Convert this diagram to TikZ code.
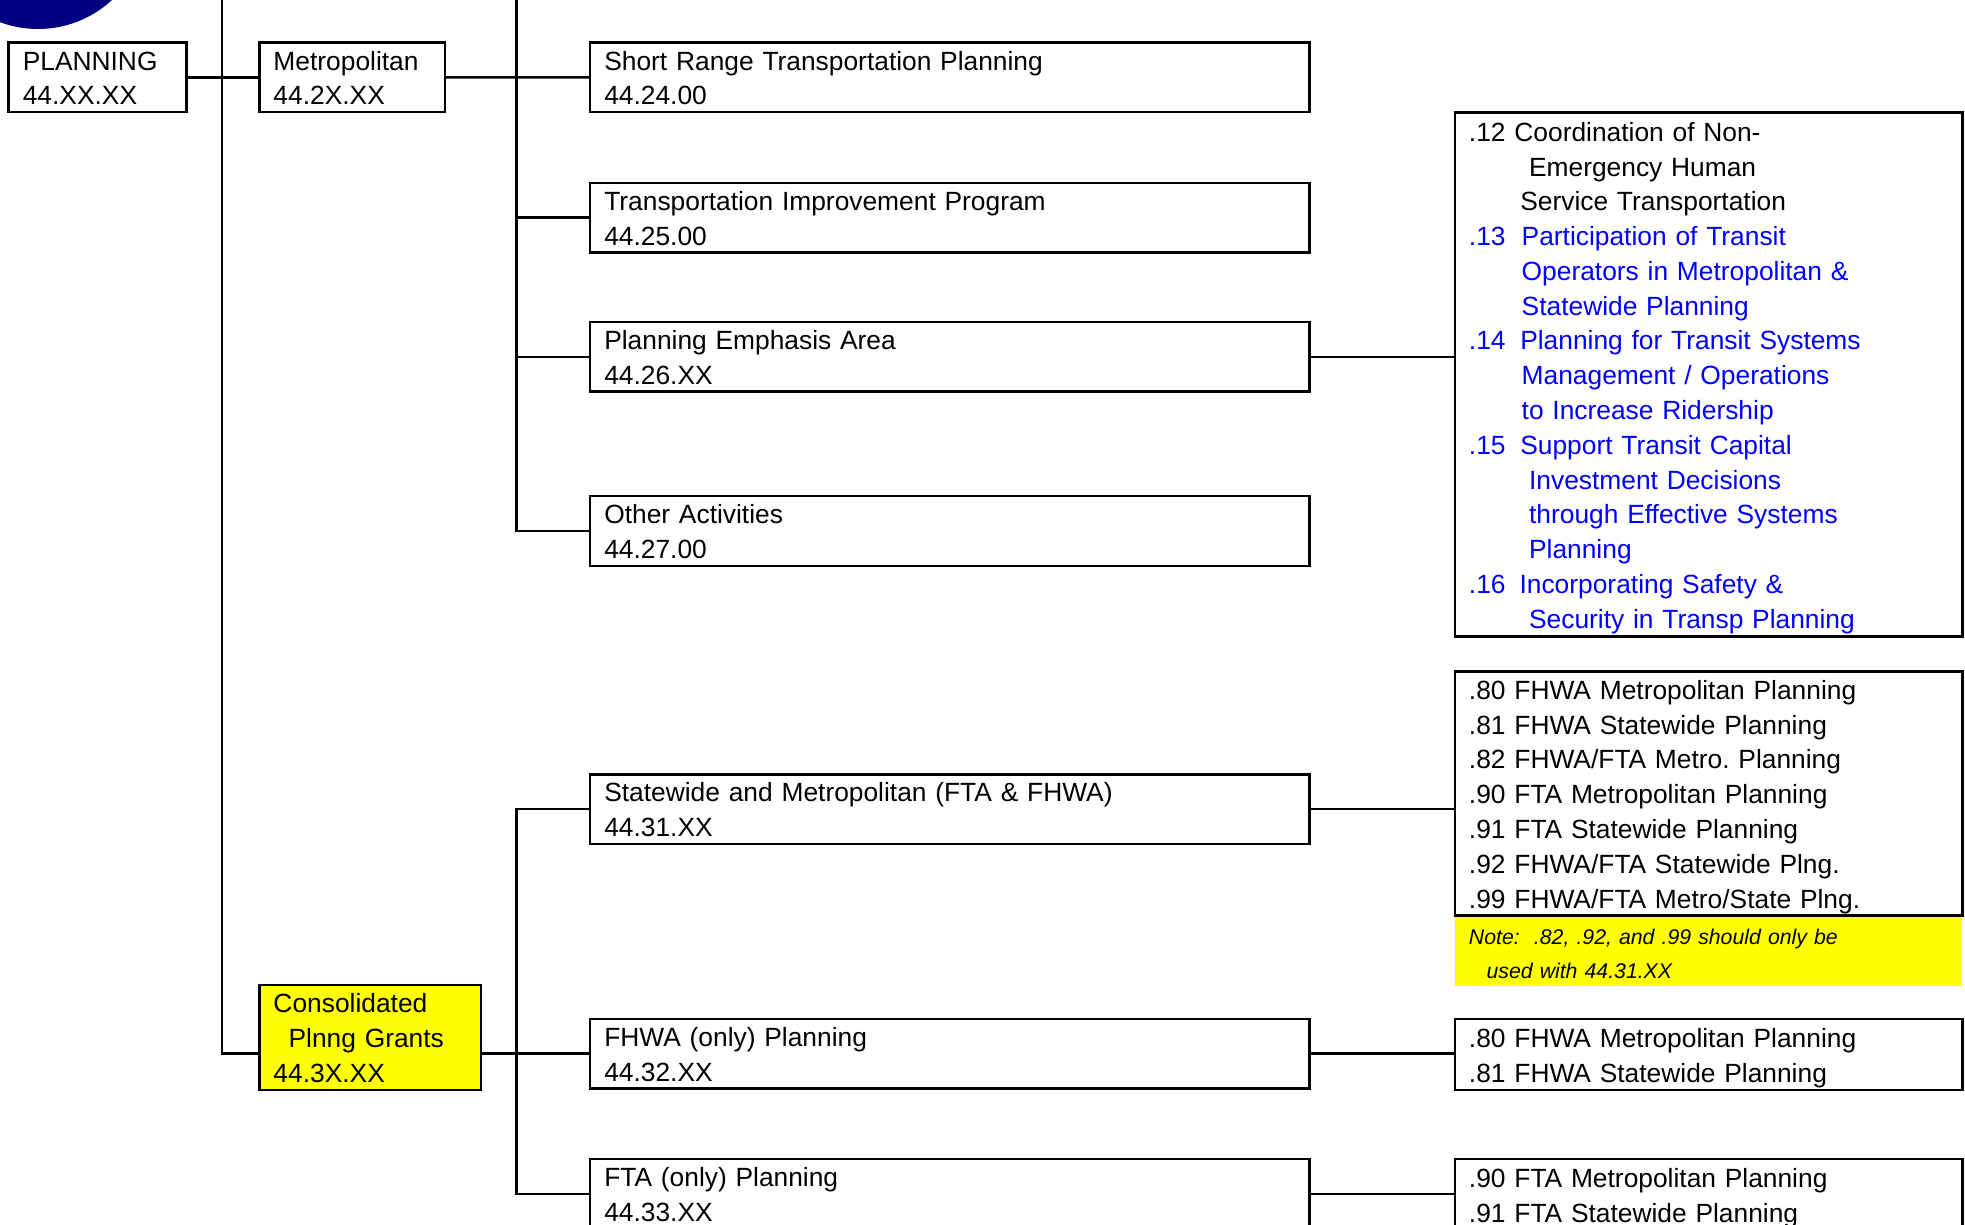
\documentclass[tikz,border=0pt]{standalone}
\usepackage{fontspec}
\setmainfont{Liberation Sans}
\usepackage{xcolor}
\usetikzlibrary{calc,positioning}
\definecolor{planNavy}{RGB}{0,0,128}
\definecolor{itemBlue}{RGB}{0,0,255}
\definecolor{noteYellow}{RGB}{255,255,0}
\newcommand{\topstrut}{\rule{0pt}{7.83pt}}
\newcommand{\botstrut}{\rule[-2.07pt]{0pt}{2.07pt}}
\tikzset{
  codebox/.style={draw,line width=.7pt,anchor=north west,inner xsep=4pt,inner ysep=0pt,align=left,
    font=\fontsize{7.5}{9.9}\selectfont,execute at begin node=\topstrut,execute at end node=\botstrut},
  smallbox/.style={codebox,text width=#1,minimum height=.689cm},
  widebox/.style={codebox,text width=6.911cm,minimum height=.696cm},
  listbox/.style={codebox,text width=4.794cm},
  notebox/.style={fill=noteYellow,inner xsep=4pt,inner ysep=0pt,align=left,text width=4.794cm,
    minimum height=.677cm,font=\fontsize{6.05}{9.6}\selectfont\itshape,
    execute at begin node=\topstrut,execute at end node=\botstrut},
  link/.style={line width=.7pt}
}
\begin{document}
\begin{tikzpicture}
\useasboundingbox (0,0) rectangle (19.65,-12.25);
\clip (0,0) rectangle (19.65,-12.25);
\fill[planNavy] (0.38,0.80) circle (1.09cm);

% left column
\node[smallbox=1.498cm] (plan) at (0.075,-0.414) {PLANNING\\44.XX.XX};
\node[smallbox=1.572cm] (metro) at (2.582,-0.414) {Metropolitan\\44.2X.XX};
\node[codebox,fill=noteYellow,text width=1.936cm,minimum height=1.052cm] (consol) at (2.582,-9.838)
  {Consolidated\\\hspace*{4.3pt}Plnng Grants\\44.3X.XX};

% middle column
\node[widebox] (srtp) at (5.89,-0.414) {Short Range Transportation Planning\\44.24.00};
\node[widebox] (tip) at (5.89,-1.817) {Transportation Improvement Program\\44.25.00};
\node[widebox] (pea) at (5.89,-3.208) {Planning Emphasis Area\\44.26.XX};
\node[widebox] (other) at (5.89,-4.95) {Other Activities\\44.27.00};
\node[widebox] (state) at (5.89,-7.732) {Statewide and Metropolitan (FTA \& FHWA)\\44.31.XX};
\node[widebox] (fhwa) at (5.89,-10.176) {FHWA (only) Planning\\44.32.XX};
\node[widebox] (fta) at (5.89,-11.58) {FTA (only) Planning\\44.33.XX};

% right column
\node[listbox,minimum height=5.239cm] (peaList) at (14.537,-1.115) {%
.12 Coordination of Non-\\
\hspace*{17.1pt}Emergency Human\\
\hspace*{14.6pt}Service Transportation\\
\color{itemBlue}\makebox[15pt][l]{.13}Participation of Transit\\
\hspace*{15pt}Operators in Metropolitan \&\\
\hspace*{15pt}Statewide Planning\\
\makebox[14.6pt][l]{.14}Planning for Transit Systems\\
\hspace*{15pt}Management / Operations\\
\hspace*{15pt}to Increase Ridership\\
\makebox[14.6pt][l]{.15}Support Transit Capital\\
\hspace*{17.1pt}Investment Decisions\\
\hspace*{17.1pt}through Effective Systems\\
\hspace*{17.1pt}Planning\\
\makebox[14.4pt][l]{.16}Incorporating Safety \&\\
\hspace*{17.1pt}Security in Transp Planning};
\node[listbox,minimum height=2.431cm] (stateList) at (14.537,-6.705) {%
.80 FHWA Metropolitan Planning\\
.81 FHWA Statewide Planning\\
.82 FHWA/FTA Metro.\ Planning\\
.90 FTA Metropolitan Planning\\
.91 FTA Statewide Planning\\
.92 FHWA/FTA Statewide Plng.\\
.99 FHWA/FTA Metro/State Plng.};
\node[notebox,below=0pt of stateList] (note)
  {Note:\ \ .82, .92, and .99 should only be\\\hspace*{5pt}used with 44.31.XX};
\node[listbox,minimum height=.714cm] (fhwaList) at (14.537,-10.176)
  {.80 FHWA Metropolitan Planning\\.81 FHWA Statewide Planning};
\node[listbox,minimum height=.714cm] (ftaList) at (14.537,-11.58)
  {.90 FTA Metropolitan Planning\\.91 FTA Statewide Planning};

% connectors
\coordinate (trunkA) at (2.218,0);
\coordinate (trunkB) at (5.163,0);
\draw[link] (plan.east) -- (metro.west);
\draw[link] (trunkA) |- (consol.west |- fhwa.west);
\draw[link] (metro.east) -- (srtp.west);
\draw[link] (trunkB) |- (other.west);
\draw[link] (trunkB |- tip.west) -- (tip.west);
\draw[link] (trunkB |- pea.west) -- (pea.west);
\draw[link] (state.west) -| (trunkB |- fta.west) -- (fta.west);
\draw[link] (consol.east |- fhwa.west) -- (fhwa.west);
\draw[link] (pea.east) -- (pea.east -| peaList.west);
\draw[link] (state.east) -- (state.east -| stateList.west);
\draw[link] (fhwa.east) -- (fhwa.east -| fhwaList.west);
\draw[link] (fta.east) -- (fta.east -| ftaList.west);
\end{tikzpicture}
\end{document}
